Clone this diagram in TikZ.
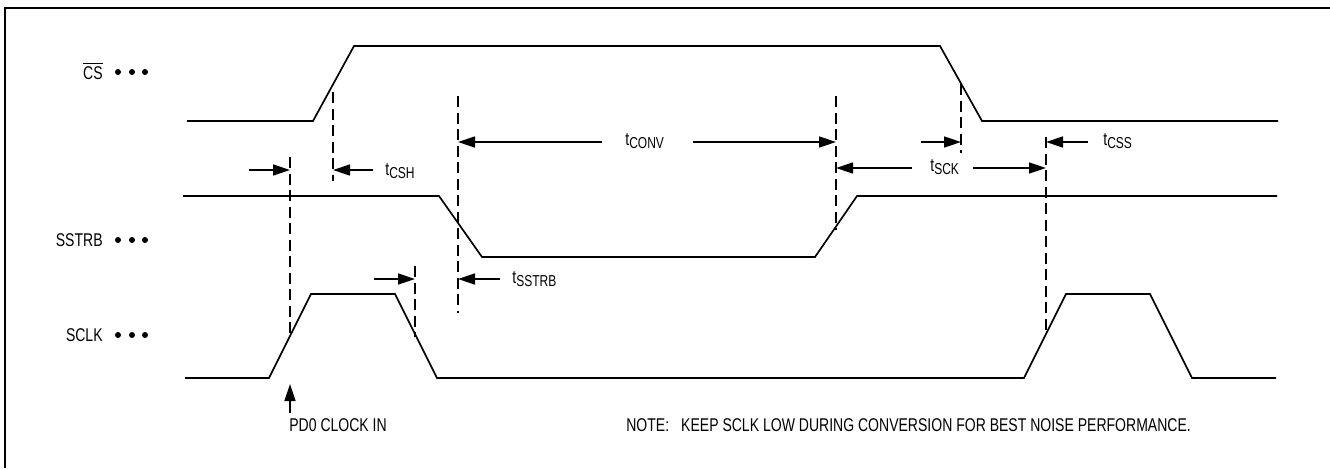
\documentclass[tikz,border=0pt]{standalone}
\usepackage{fontspec}
\setmainfont[FakeStretch=0.76]{Liberation Sans}
\usetikzlibrary{arrows.meta}
\newcommand{\tname}[1]{t{\fontsize{9}{9}\selectfont\raisebox{-0.22em}{#1}}}

\begin{document}
\begin{tikzpicture}[x=0.2mm, y=-0.2mm,
  wave/.style={line width=0.95pt, line join=miter},
  marker/.style={line width=0.85pt, dash pattern=on 2.2mm off 1.1mm},
  dim/.style={line width=0.85pt, -{Triangle[length=3.4mm,width=2.2mm]}},
  sig/.style={anchor=east, inner sep=0pt, font=\fontsize{10.5}{12}\selectfont},
  lbl/.style={anchor=west, inner sep=0pt, font=\fontsize{10.5}{12}\selectfont}]

\useasboundingbox (0,0) rectangle (1330,468);
\draw[line width=1.2pt] (1330,8) -- (5,8) -- (5,468);


\node[sig] (cs) at (103,71) {$\overline{\mbox{CS}}$};
\node[sig] (sstrb) at (103,240) {SSTRB};
\node[sig] (sclk) at (103,335) {SCLK};

\foreach \y in {72,240,335}
\foreach \x in {118,132,145}
\fill (\x,\y) circle[radius=0.6mm];


\draw[wave] (187,121) -- (313,121) -- (354,46) -- (940,46) -- (982,121) -- (1278,121);
\draw[wave] (183,196) -- (439,196) -- (482,257) -- (815,257) -- (857,196) -- (1277,196);
\draw[wave] (185,378) -- (269,378) -- (311,294) -- (395,294) -- (437,378) -- (1024,378)
  -- (1066,294) -- (1150,294) -- (1192,378) -- (1276,378);


\foreach \n/\x/\a/\b in {1/290/157/333, 2/333/92/181, 3/458/96/313, 4/836/96/230,
  5/961/84/153, 6/1046/137/332, 7/415/266/337}
{
\coordinate (t\n) at (\x,\a);
\coordinate (b\n) at (\x,\b);
\draw[marker] (t\n) -- (b\n);
}


\foreach \s/\x/\y/\m in {a1/249/170/1, a2/373/170/2, a3/602/142/3, a4/693/142/4,
  a5/912/168/4, a6/973/168/6, a7/921/142/5, a8/1088/142/6, a9/374/279/7, a10/500/279/3}
{
\coordinate (\s) at (\x,\y);
\draw[dim] (\s) -- (t\m |- \s);
}


\node[lbl] (tcsh) at (385,171) {\tname{CSH}};
\node[lbl] (tconv) at (625,141) {\tname{CONV}};
\node[lbl] (tsck) at (930,167) {\tname{SCK}};
\node[lbl] (tcss) at (1103,141) {\tname{CSS}};
\node[lbl] (tsstrb) at (512,279) {\tname{SSTRB}};


\coordinate (p0) at (290,413);
\coordinate (p1) at (290,384);
\draw[dim] (p0) -- (p1);
\node[lbl, anchor=north west] (pd0) at (289,418) {PD0 CLOCK IN};
\node[lbl, anchor=north west] (note) at (626,418)
  {NOTE:\hspace{2.4mm}KEEP SCLK LOW DURING CONVERSION FOR BEST NOISE PERFORMANCE.};

\end{tikzpicture}
\end{document}
